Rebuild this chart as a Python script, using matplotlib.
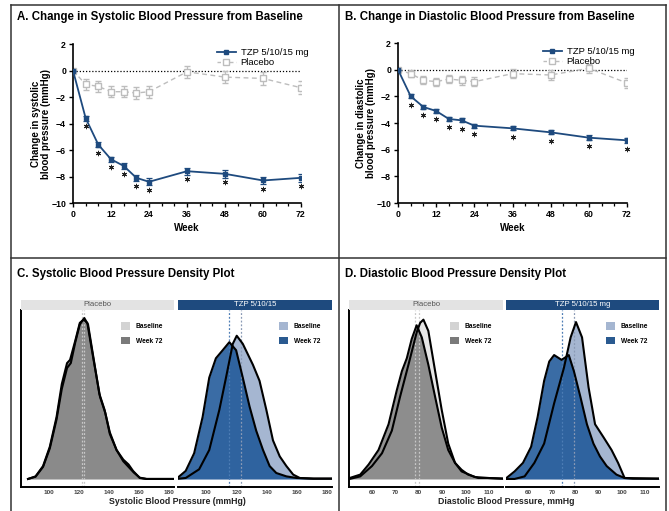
import matplotlib
matplotlib.use("Agg")
import matplotlib.pyplot as plt
from matplotlib.lines import Line2D
from matplotlib.patches import Patch, Rectangle
import numpy as np

plt.rcParams['font.family'] = ['Liberation Sans', 'DejaVu Sans']

# ---------------- Data: change from baseline ----------------
weeks = [0, 4, 8, 12, 16, 20, 24, 36, 48, 60, 72]

sbp_tzp = [0, -3.6, -5.6, -6.7, -7.2, -8.1, -8.4, -7.6, -7.8, -8.3, -8.1]
sbp_tzp_se = [0, 0.2, 0.2, 0.2, 0.2, 0.25, 0.25, 0.25, 0.3, 0.3, 0.3]
sbp_pbo = [0, -1.05, -1.2, -1.6, -1.6, -1.7, -1.6, -0.1, -0.5, -0.6, -1.3]
sbp_pbo_se = [0, 0.4, 0.4, 0.4, 0.4, 0.45, 0.45, 0.45, 0.45, 0.5, 0.5]

dbp_tzp = [0, -2.0, -2.8, -3.1, -3.7, -3.8, -4.2, -4.4, -4.7, -5.1, -5.3]
dbp_tzp_se = [0, 0.15, 0.15, 0.15, 0.15, 0.15, 0.15, 0.15, 0.15, 0.2, 0.2]
dbp_pbo = [0, -0.3, -0.8, -0.9, -0.7, -0.8, -0.9, -0.3, -0.4, 0.1, -1.0]
dbp_pbo_se = [0, 0.25, 0.3, 0.3, 0.3, 0.35, 0.35, 0.35, 0.35, 0.35, 0.4]

sig_weeks = [4, 8, 12, 16, 20, 24, 36, 48, 60, 72]

week_ticks = [0, 12, 24, 36, 48, 60, 72]
change_ticks = [2, 0, -2, -4, -6, -8, -10]

# ---------------- Data: density curves (relative density) ----------------
sbp_pbo_base_x = [86, 91, 96, 100.5, 105, 108.5, 112, 114.5, 117.5, 120.5, 123.5, 126, 129.5, 133.5, 137, 140.5, 145, 149.5, 153, 156.5, 160.5, 165, 183]
sbp_pbo_base_y = [0, 0.014, 0.075, 0.19, 0.37, 0.56, 0.69, 0.72, 0.85, 0.96, 1.0, 0.96, 0.76, 0.53, 0.43, 0.29, 0.18, 0.11, 0.075, 0.04, 0.008, 0, 0]
sbp_pbo_w72_x = [86, 91, 96, 100.5, 105, 108.5, 112, 114, 117.5, 120.5, 123, 125.5, 129.5, 134, 137.5, 140.5, 145, 149.5, 153, 156, 160.5, 165, 183]
sbp_pbo_w72_y = [0, 0.016, 0.08, 0.2, 0.385, 0.59, 0.72, 0.74, 0.86, 0.97, 0.99, 0.97, 0.75, 0.51, 0.41, 0.28, 0.18, 0.12, 0.09, 0.05, 0.006, 0, 0]

sbp_tzp_base_x = [80, 86.4, 95.3, 102, 108.7, 113.1, 117.6, 120.2, 124.2, 130.9, 135.3, 139.8, 144.2, 148.7, 153.1, 157.6, 162, 171, 183]
sbp_tzp_base_y = [0, 0.006, 0.06, 0.18, 0.43, 0.63, 0.84, 0.89, 0.84, 0.71, 0.61, 0.43, 0.24, 0.14, 0.08, 0.027, 0.006, 0.002, 0.002]
sbp_tzp_w72_x = [80, 80.9, 86.4, 92, 97.6, 102, 106.4, 110.9, 115.3, 119.8, 124.2, 128.7, 133.1, 137.6, 142, 146.4, 153.1, 159.8, 171, 183]
sbp_tzp_w72_y = [0.002, 0.006, 0.05, 0.16, 0.385, 0.63, 0.75, 0.8, 0.85, 0.8, 0.63, 0.45, 0.3, 0.18, 0.08, 0.037, 0.016, 0.006, 0.002, 0.002]

dbp_pbo_base_x = [50.5, 55, 60, 64.3, 68.5, 72, 75.6, 79.1, 80.6, 82, 84.1, 87, 89.8, 92.6, 95.5, 98.3, 104, 109.6, 116]
dbp_pbo_base_y = [0, 0.016, 0.08, 0.16, 0.3, 0.51, 0.71, 0.91, 0.97, 0.99, 0.92, 0.67, 0.43, 0.22, 0.1, 0.047, 0.012, 0.006, 0.002]
dbp_pbo_w72_x = [50.5, 55, 58.6, 62.8, 67.1, 70.6, 72.8, 74.9, 77, 79.1, 81.3, 84.1, 87, 89.8, 92.6, 95.5, 98.3, 101.1, 105.4, 109.6, 116]
dbp_pbo_w72_y = [0.006, 0.027, 0.09, 0.18, 0.34, 0.55, 0.67, 0.75, 0.87, 0.955, 0.88, 0.71, 0.51, 0.32, 0.18, 0.1, 0.057, 0.027, 0.006, 0.006, 0.002]

dbp_tzp_base_x = [50.5, 53.9, 58.2, 62.4, 66.6, 70.9, 75.1, 78, 80.3, 82.9, 85.7, 88.5, 92.1, 95.6, 98.4, 101.2, 104.8, 116]
dbp_tzp_base_y = [0, 0, 0.016, 0.1, 0.22, 0.47, 0.69, 0.88, 0.975, 0.88, 0.57, 0.34, 0.26, 0.18, 0.1, 0.006, 0.002, 0.002]
dbp_tzp_w72_x = [50.4, 53.9, 57.5, 61, 63.8, 66.6, 68.8, 70.9, 74.1, 77.2, 79.4, 82.2, 85, 87.8, 90.6, 93.5, 97.7, 101.2, 114.7, 116]
dbp_tzp_w72_y = [0.006, 0.047, 0.1, 0.2, 0.385, 0.61, 0.73, 0.77, 0.74, 0.77, 0.67, 0.51, 0.34, 0.22, 0.14, 0.08, 0.027, 0.006, 0.002, 0.002]

# mean lines (baseline, week 72)
sbp_pbo_means = [121.8, 123.0]
sbp_tzp_means = [122.9, 115.1]
dbp_pbo_means = [79.9, 78.4]
dbp_tzp_means = [79.6, 74.1]

sbp_ticks = [100, 120, 140, 160, 180]
dbp_ticks = [60, 70, 80, 90, 100, 110]

# ---------------- Figure ----------------
W, H = 669, 511
fig = plt.figure(figsize=(W / 100, H / 100), dpi=100)


def fx(px):
    return px / W


def fy(py):
    return 1 - py / H


# panel borders
border_kw = dict(color='#333333', lw=1.1, transform=fig.transFigure, clip_on=False)
fig.add_artist(Line2D([fx(11), fx(666)], [fy(5), fy(5)], **border_kw))
fig.add_artist(Line2D([fx(11), fx(666)], [fy(258), fy(258)], **border_kw))
fig.add_artist(Line2D([fx(11), fx(11)], [fy(5), fy(511)], **border_kw))
fig.add_artist(Line2D([fx(339), fx(339)], [fy(5), fy(511)], **border_kw))
fig.add_artist(Line2D([fx(666), fx(666)], [fy(5), fy(511)], **border_kw))

# titles
title_kw = dict(fontsize=8.3, fontweight='bold', ha='left', va='center')
fig.text(fx(17), fy(17), 'A. Change in Systolic Blood Pressure from Baseline', **title_kw)
fig.text(fx(345), fy(17), 'B. Change in Diastolic Blood Pressure from Baseline', **title_kw)
fig.text(fx(17), fy(274), 'C. Systolic Blood Pressure Density Plot', **title_kw)
fig.text(fx(345), fy(274), 'D. Diastolic Blood Pressure Density Plot', **title_kw)

NAVY = '#1e4a7e'
GRAY = '#bdbdbd'


def change_panel(left, right, top, bottom, tzp, tzp_se, pbo, pbo_se, ylabel, leg_x, leg_y):
    ax = fig.add_axes([fx(left), fy(bottom), fx(right - left), (bottom - top) / H])
    ax.axhline(0, color='black', lw=0.9, ls=(0, (1, 1.5)), zorder=1)
    ax.errorbar(weeks, pbo, yerr=pbo_se, color=GRAY, ls=(0, (3.5, 2.5)), lw=1.0,
                marker='s', ms=4, mfc='white', mec=GRAY, mew=1.0,
                ecolor=GRAY, elinewidth=0.9, capsize=2, capthick=0.9, zorder=2)
    ax.errorbar(weeks, tzp, yerr=tzp_se, color=NAVY, lw=1.3,
                marker='s', ms=3.5, mfc=NAVY, mec=NAVY,
                ecolor=NAVY, elinewidth=0.9, capsize=2, capthick=0.9, zorder=3)
    sig_y = [tzp[weeks.index(w)] - 0.62 for w in sig_weeks]
    ax.plot(sig_weeks, sig_y, ls='none', marker=(6, 2, 0), ms=3.8, mew=0.7,
            color='#222222', zorder=4, clip_on=False)
    ax.set_xlim(0, 72)
    ax.set_ylim(-10, 2)
    ax.set_xticks(week_ticks)
    ax.set_xticks(np.arange(0, 73, 4), minor=True)
    ax.set_yticks(change_ticks)
    ax.tick_params(axis='both', which='major', length=3, width=1.0, labelsize=6.3, pad=2)
    ax.tick_params(axis='x', which='minor', length=2, width=0.9)
    for lab in ax.get_xticklabels() + ax.get_yticklabels():
        lab.set_fontweight('bold')
    for s in ['top', 'right']:
        ax.spines[s].set_visible(False)
    for s in ['left', 'bottom']:
        ax.spines[s].set_linewidth(1.2)
    ax.set_xlabel('Week', fontsize=7, fontweight='bold', labelpad=3)
    ax.set_ylabel(ylabel, fontsize=7, fontweight='bold', labelpad=0, linespacing=1.05)
    handles = [Line2D([], [], color=NAVY, lw=1.3, marker='s', ms=3.5, mfc=NAVY, mec=NAVY),
               Line2D([], [], color=GRAY, lw=1.0, ls=(0, (2.5, 2)), marker='s', ms=4,
                      mfc='white', mec=GRAY)]
    fig.legend(handles, ['TZP 5/10/15 mg', 'Placebo'], loc='upper left',
               bbox_to_anchor=(fx(leg_x), fy(leg_y)),
               frameon=False, fontsize=6.8, handlelength=2.0, handletextpad=0.5,
               borderpad=0, borderaxespad=0, labelspacing=0.12)
    return ax


change_panel(73, 301, 44, 203, sbp_tzp, sbp_tzp_se, sbp_pbo, sbp_pbo_se,
             'Change in systolic\nblood pressure (mmHg)', 217, 48)
change_panel(398, 627, 43, 203, dbp_tzp, dbp_tzp_se, dbp_pbo, dbp_pbo_se,
             'Change in diastolic\nblood pressure (mmHg)', 543, 47)


def density_facet(left, right, xlim, ticks, curves, means, mean_cols, strip_text,
                  strip_col, strip_txt_col, leg_cols, show_left):
    top, bottom = 310, 487
    ax = fig.add_axes([fx(left), fy(bottom), fx(right - left), (bottom - top) / H])
    for (xs, ys, fc, al) in curves:
        ax.fill_between(xs, 0, ys, color=fc, alpha=al, lw=0, zorder=1)
    for m, c in zip(means, mean_cols):
        ax.axvline(m, color=c, lw=0.9, ls=(0, (1.5, 1.5)), zorder=2)
    for (xs, ys, fc, al) in curves:
        ax.plot(xs, ys, color='black', lw=1.5, zorder=3, solid_joinstyle='round')
    ax.set_xlim(*xlim)
    ax.set_ylim(-0.05, 1.05)
    ax.set_yticks([])
    ax.set_xticks(ticks)
    ax.tick_params(axis='x', length=0, labelsize=4.6, pad=2, labelcolor='#444444')
    for lab in ax.get_xticklabels():
        lab.set_fontweight('bold')
    for s in ['top', 'right']:
        ax.spines[s].set_visible(False)
    ax.spines['bottom'].set_linewidth(1.4)
    ax.spines['left'].set_linewidth(1.4)
    ax.spines['left'].set_visible(show_left)
    # strip
    fig.add_artist(Rectangle((fx(left), fy(309.5)), fx(right - left), 9.5 / H,
                             transform=fig.transFigure, facecolor=strip_col,
                             edgecolor='none'))
    fig.text(fx((left + right) / 2), fy(304.5), strip_text, ha='center', va='center',
             fontsize=5.6, color=strip_txt_col)
    handles = [Patch(facecolor=leg_cols[0], edgecolor='none'),
               Patch(facecolor=leg_cols[1], edgecolor='none')]
    ax.legend(handles, ['Baseline', 'Week 72'], loc='upper left',
              bbox_to_anchor=(0.655, 0.93), frameon=False,
              prop={'size': 4.8, 'weight': 'bold'}, handlelength=1.3, handleheight=1.3,
              handletextpad=0.9, labelspacing=1.0, borderpad=0, borderaxespad=0)
    return ax


PB_BASE, PB_W72 = '#d3d3d3', '#7a7a7a'
TZ_BASE, TZ_W72 = '#a5b6d1', '#1f5899'

density_facet(21, 174, (81.3, 183.3), sbp_ticks,
              [(sbp_pbo_base_x, sbp_pbo_base_y, PB_BASE, 1.0),
               (sbp_pbo_w72_x, sbp_pbo_w72_y, PB_W72, 0.82)],
              sbp_pbo_means, ['#c8c8c8', '#c8c8c8'], 'Placebo', '#e3e3e3', '#555555',
              [PB_BASE, PB_W72], True)
density_facet(178, 332, (81.3, 183.3), sbp_ticks,
              [(sbp_tzp_base_x, sbp_tzp_base_y, TZ_BASE, 1.0),
               (sbp_tzp_w72_x, sbp_tzp_w72_y, TZ_W72, 0.88)],
              sbp_tzp_means, ['#8a9ab5', '#4d7db5'], 'TZP 5/10/15', NAVY, 'white',
              [TZ_BASE, '#2a5a90'], False)
density_facet(349, 503, (50.2, 116), dbp_ticks,
              [(dbp_pbo_base_x, dbp_pbo_base_y, '#e6e6e6', 1.0),
               (dbp_pbo_w72_x, dbp_pbo_w72_y, PB_W72, 0.82)],
              dbp_pbo_means, ['#c8c8c8', '#c8c8c8'], 'Placebo', '#e3e3e3', '#555555',
              [PB_BASE, PB_W72], True)
density_facet(506, 659, (50.2, 116), dbp_ticks,
              [(dbp_tzp_base_x, dbp_tzp_base_y, TZ_BASE, 1.0),
               (dbp_tzp_w72_x, dbp_tzp_w72_y, TZ_W72, 0.88)],
              dbp_tzp_means, ['#8a9ab5', '#4d7db5'], 'TZP 5/10/15 mg', NAVY, 'white',
              [TZ_BASE, '#2a5a90'], False)

fig.text(fx(177), fy(501), 'Systolic Blood Pressure (mmHg)', ha='center', va='center',
         fontsize=6.3, fontweight='bold', color='#222222')
fig.text(fx(506), fy(501), 'Diastolic Blood Pressure, mmHg', ha='center', va='center',
         fontsize=6.3, fontweight='bold', color='#222222')

fig.savefig('out.png', dpi=100)
